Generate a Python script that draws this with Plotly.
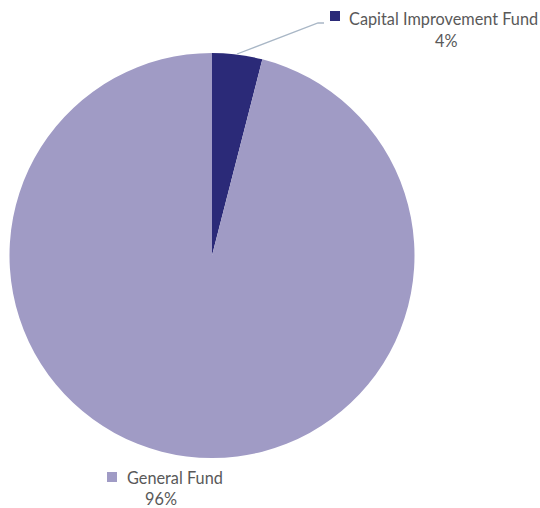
import plotly.graph_objects as go

labels = ["Capital Improvement Fund", "General Fund"]
values = [4, 96]
pct_labels = ["4%", "96%"]
colors = ["#2b2a78", "#a09bc5"]

W, H = 540, 508

def px(x):
    return x / W

def py(y):
    return 1 - y / H

fig = go.Figure(go.Pie(
    labels=labels,
    values=values,
    sort=False,
    direction="clockwise",
    rotation=0,
    marker=dict(colors=colors, line=dict(width=0)),
    textinfo="none",
    hoverinfo="label+percent",
    domain=dict(x=[px(9), px(415)], y=[py(458), py(53)]),
))

font = dict(family="Lato, Open Sans, sans-serif", size=16.3, color="#595959")

annotations = [
    dict(x=px(347), y=py(18), xref="paper", yref="paper", text=labels[0], showarrow=False,
         xanchor="left", yanchor="middle", font=font),
    dict(x=px(447), y=py(41), xref="paper", yref="paper", text=pct_labels[0], showarrow=False,
         xanchor="center", yanchor="middle", font=font),
    dict(x=px(125), y=py(477), xref="paper", yref="paper", text=labels[1], showarrow=False,
         xanchor="left", yanchor="middle", font=font),
    dict(x=px(161), y=py(498), xref="paper", yref="paper", text=pct_labels[1], showarrow=False,
         xanchor="center", yanchor="middle", font=font),
]

shapes = [
    dict(type="path", xref="paper", yref="paper",
         path=f"M {px(237)} {py(54)} L {px(318)} {py(23)} L {px(324)} {py(23)}",
         line=dict(color="#a9b7c6", width=1.3)),
    dict(type="rect", xref="paper", yref="paper",
         x0=px(330), x1=px(340), y0=py(21), y1=py(11),
         fillcolor=colors[0], line=dict(width=0)),
    dict(type="rect", xref="paper", yref="paper",
         x0=px(107), x1=px(117), y0=py(482), y1=py(472),
         fillcolor=colors[1], line=dict(width=0)),
]

fig.update_layout(
    width=W, height=H,
    margin=dict(l=0, r=0, t=0, b=0),
    paper_bgcolor="white",
    plot_bgcolor="white",
    showlegend=False,
    annotations=annotations,
    shapes=shapes,
)

fig.write_html("out.html", config={"displayModeBar": False},
               post_script="document.body.style.margin='0';document.body.style.padding='0';")
